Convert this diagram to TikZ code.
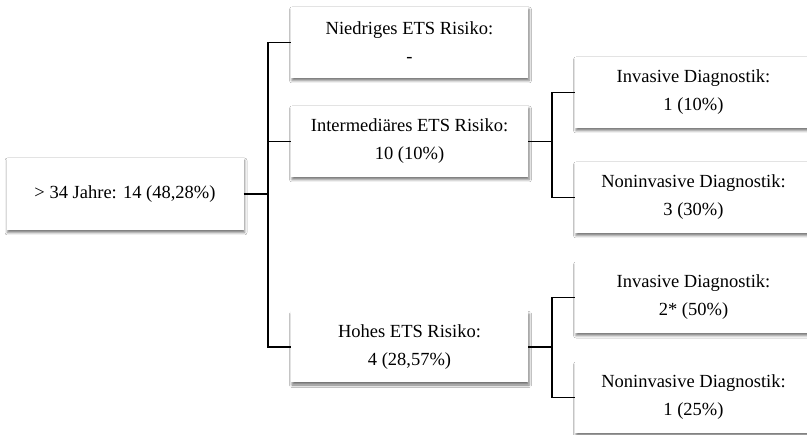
\documentclass[tikz,border=0pt]{standalone}
\usepackage{fontspec}
\setmainfont{Liberation Serif}
\usetikzlibrary{shadows.blur}
\begin{document}
\begin{tikzpicture}[x=1pt,y=-1pt,
  box/.style={fill=white, minimum width=237pt, minimum height=71pt,
    align=center, inner sep=0pt,
    font=\fontsize{18.5}{28}\selectfont,
    blur shadow={shadow xshift=1pt, shadow yshift=-2.5pt,
      shadow blur radius=2.5pt, shadow opacity=55}},
  link/.style={line width=1.4pt, black}]
\clip (0,0) rectangle (807,435);
\fill[white] (0,0) rectangle (807,435);

% age group
\node[box, minimum height=72pt] (root) at (125,194) {> 34 Jahre: 14 (48,28\%)};

% risk levels
\node[box] (low)  at (409.5,42.5)  {Niedriges ETS Risiko:\\-};
\node[box] (mid)  at (409.5,141.5) {Intermediäres ETS Risiko:\\10 (10\%)};
\node[box] (high) at (409.5,347)   {Hohes ETS Risiko:\\4 (28,57\%)};

% diagnostics
\node[box] (midinv) at (693.5,92.5)  {Invasive Diagnostik:\\1 (10\%)};
\node[box] (midnon) at (693.5,197.5) {Noninvasive Diagnostik:\\3 (30\%)};
\node[box] (hiinv)  at (693.5,297.5) {Invasive Diagnostik:\\2* (50\%)};
\node[box] (hinon)  at (693.5,397.5) {Noninvasive Diagnostik:\\1 (25\%)};

% junctions
\coordinate (j1) at (268,194);
\coordinate (j2) at (552,141.5);
\coordinate (j3) at (552,347);

\draw[link] (root.east) -- (j1);
\draw[link] (j1) |- (low.west);
\draw[link] (j1) |- (mid.west);
\draw[link] (j1) |- (high.west);

\draw[link] (mid.east) -- (j2);
\draw[link] (j2) |- (midinv.west);
\draw[link] (j2) |- (midnon.west);

\draw[link] (high.east) -- (j3);
\draw[link] (j3) |- (hiinv.west);
\draw[link] (j3) |- (hinon.west);
\end{tikzpicture}
\end{document}
